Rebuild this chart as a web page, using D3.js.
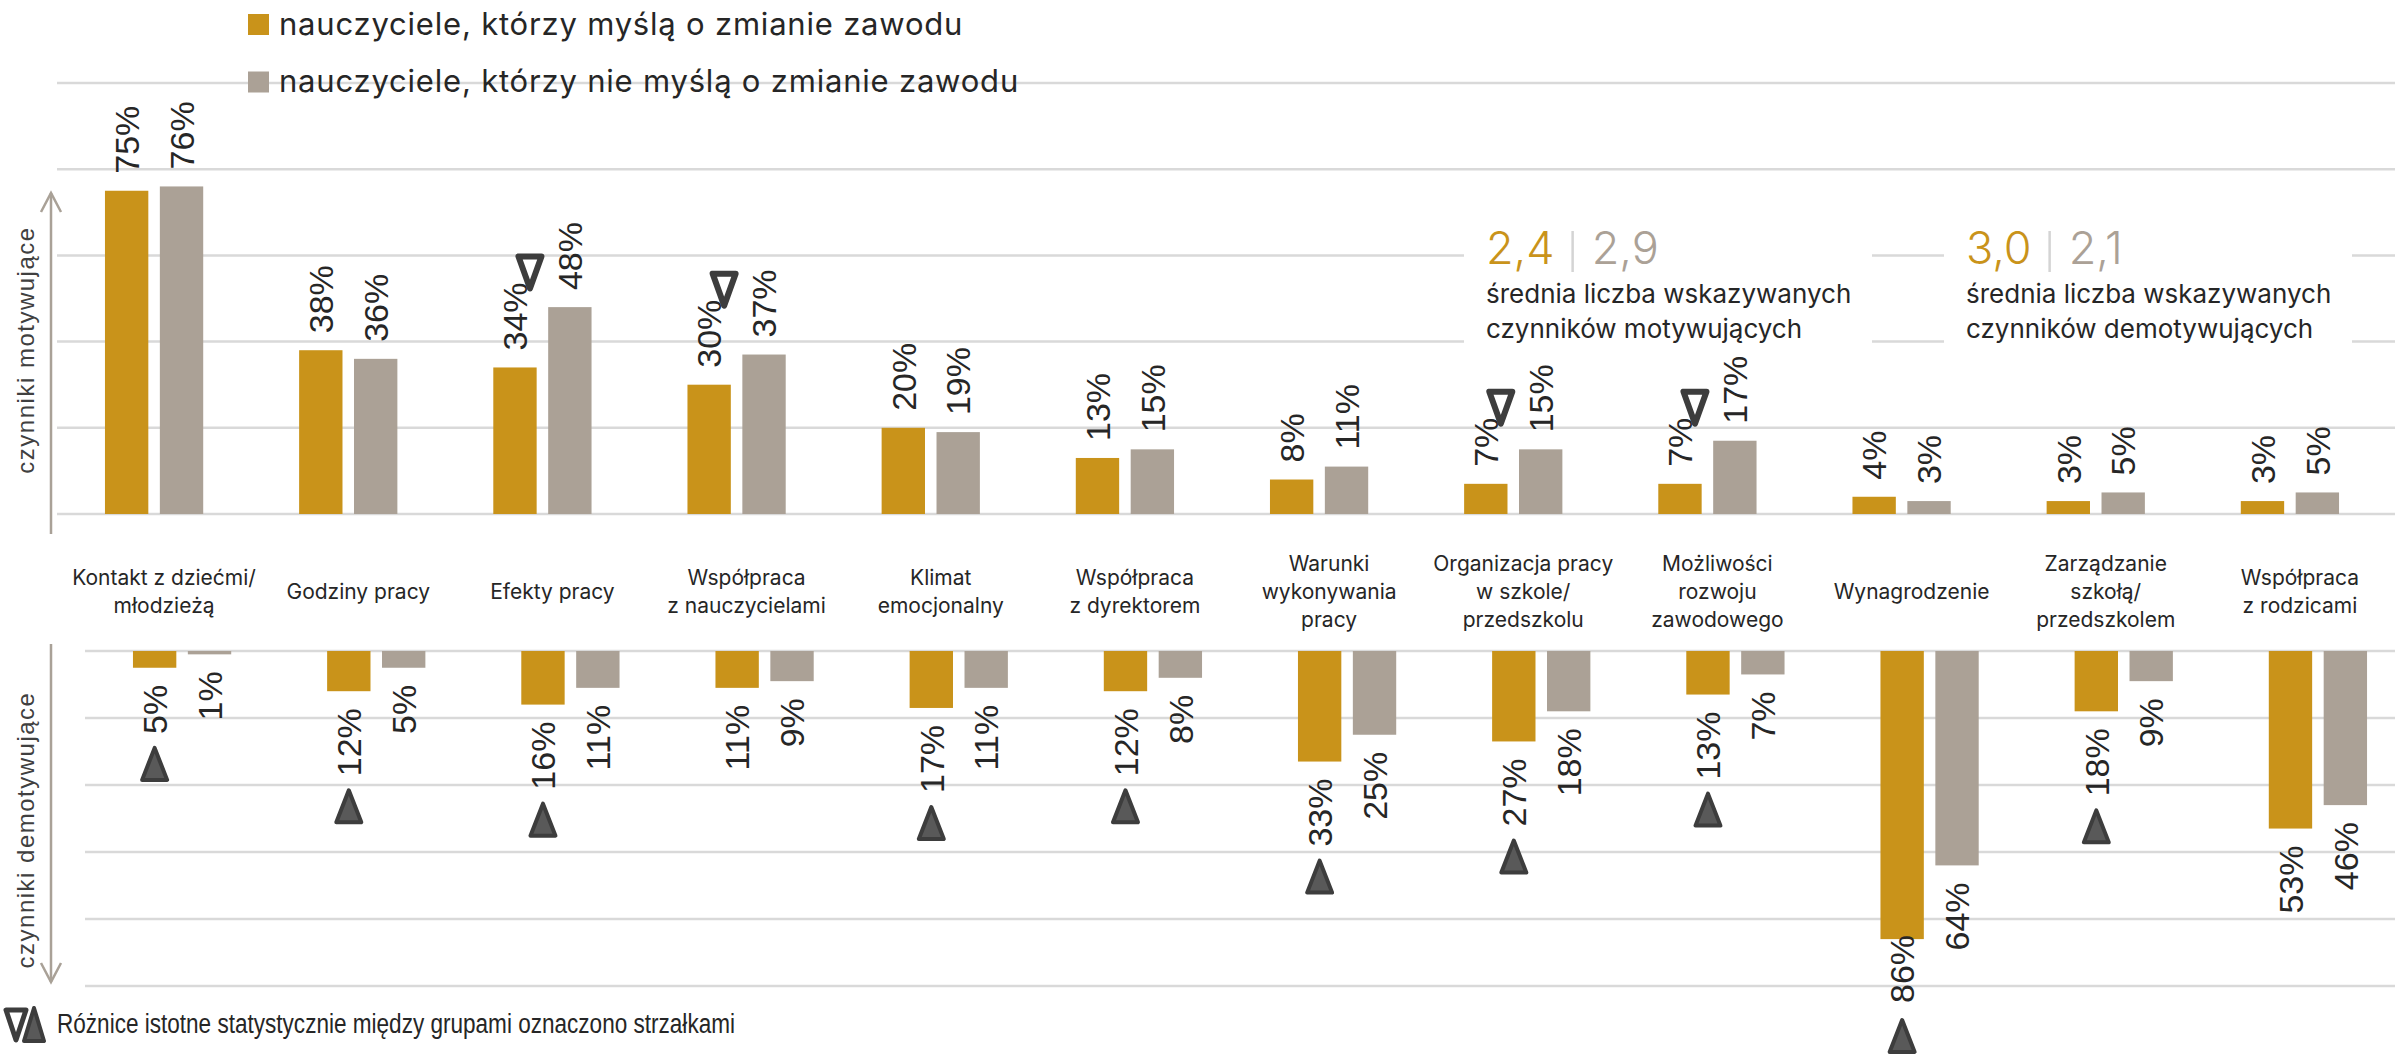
<!DOCTYPE html>
<html>
<head>
<meta charset="utf-8">
<script src="https://cdn.jsdelivr.net/npm/d3@7"></script>
<style>
  body { margin: 0; background: #fff; }
  svg { display: block; }
</style>
</head>
<body>
<svg id="chart"></svg>
<script>
// data
const categories = [
  ["Kontakt z dziećmi/", "młodzieżą"],
  ["Godziny pracy"],
  ["Efekty pracy"],
  ["Współpraca", "z nauczycielami"],
  ["Klimat", "emocjonalny"],
  ["Współpraca", "z dyrektorem"],
  ["Warunki", "wykonywania", "pracy"],
  ["Organizacja pracy", "w szkole/", "przedszkolu"],
  ["Możliwości", "rozwoju", "zawodowego"],
  ["Wynagrodzenie"],
  ["Zarządzanie", "szkołą/", "przedszkolem"],
  ["Współpraca", "z rodzicami"]
];
const seriesNames = [
  "nauczyciele, którzy myślą o zmianie zawodu",
  "nauczyciele, którzy nie myślą o zmianie zawodu"
];
const motivYes = [75, 38, 34, 30, 20, 13, 8, 7, 7, 4, 3, 3];
const motivNo = [76, 36, 48, 37, 19, 15, 11, 15, 17, 3, 5, 5];
const demotYes = [5, 12, 16, 11, 17, 12, 33, 27, 13, 86, 18, 53];
const demotNo = [1, 5, 11, 9, 11, 8, 25, 18, 7, 64, 9, 46];
const motivArrows = [false, false, true, true, false, false, false, true, true, false, false, false];
const demotArrows = [true, true, true, false, true, true, true, true, true, true, true, false];
const avgYes = ["2,4", "3,0"];
const avgNo = ["2,9", "2,1"];
const avgLabels = [
  ["średnia liczba wskazywanych", "czynników motywujących"],
  ["średnia liczba wskazywanych", "czynników demotywujących"]
];
const axisTitles = ["czynniki motywujące", "czynniki demotywujące"];
const noteText = "Różnice istotne statystycznie między grupami oznaczono strzałkami";

const W = 2395, H = 1054;
const colors = ["#c9931a", "#aba196"];
const textColor = "#262626";
const darkArrow = "#3d3d3d";

const idx = d3.range(categories.length);
const xTop = d3.scaleBand().domain(idx).range([57, 2387]).paddingInner(0.494).paddingOuter(0.247);
const xBot = xTop.copy().range([85, 2415]);
const xSeries = d3.scaleBand().domain([0, 1]).range([0, xTop.bandwidth()]).paddingInner(0.21);
const yTop = d3.scaleLinear().domain([0, 100]).range([514, 83]);
const yBot = d3.scaleLinear().domain([0, 100]).range([651, 986]);

function downTri(cx, bottom) {
  const w = 23, h = 32;
  return `M${cx - w / 2},${bottom - h}L${cx + w / 2},${bottom - h}L${cx},${bottom}Z`;
}
function upTri(cx, top) {
  const w = 25, h = 32;
  return `M${cx},${top}L${cx + w / 2},${top + h}L${cx - w / 2},${top + h}Z`;
}

function drawChart() {
  const svg = d3.select("#chart").attr("width", W).attr("height", H);

  // gridlines
  svg.append("g").selectAll("line")
    .data(yTop.ticks(5))
    .enter().append("line")
    .attr("x1", 57).attr("x2", W)
    .attr("y1", d => yTop(d)).attr("y2", d => yTop(d))
    .attr("stroke", "#d9d9d9").attr("stroke-width", 2.5);

  svg.append("g").selectAll("line")
    .data(yBot.ticks(5))
    .enter().append("line")
    .attr("x1", 85).attr("x2", W)
    .attr("y1", d => yBot(d)).attr("y2", d => yBot(d))
    .attr("stroke", "#d9d9d9").attr("stroke-width", 2.5);

  // average boxes (white background hides the gridlines)
  const avgX = [1486, 1966];
  avgX.forEach((x, k) => {
    const g = svg.append("g");
    g.append("rect").attr("x", x - 22).attr("y", 215).attr("width", 408).attr("height", 135).attr("fill", "#fff");
    const t = g.append("text").attr("x", x).attr("y", 264)
      .attr("font-family", "Inter, sans-serif").attr("font-weight", 300).attr("font-size", 45);
    t.append("tspan").attr("fill", colors[0]).text(avgYes[k]);
    const w = t.node().getComputedTextLength();
    g.append("line").attr("x1", x + w + 18).attr("x2", x + w + 18).attr("y1", 231).attr("y2", 272)
      .attr("stroke", "#d4d4d4").attr("stroke-width", 2.5);
    g.append("text").attr("x", x + w + 37).attr("y", 264)
      .attr("font-family", "Inter, sans-serif").attr("font-weight", 300).attr("font-size", 45)
      .attr("fill", colors[1]).text(avgNo[k]);
    g.append("text").attr("font-family", "Inter, sans-serif").attr("font-size", 26).attr("fill", textColor)
      .selectAll("tspan").data(avgLabels[k]).enter().append("tspan")
      .attr("x", x).attr("y", (d, j) => 303 + j * 35).text(d => d);
  });

  // axis arrows
  const arrow = svg.append("g").attr("stroke", "#a9a197").attr("stroke-width", 2.5).attr("fill", "none");
  arrow.append("line").attr("x1", 51).attr("x2", 51).attr("y1", 193).attr("y2", 534);
  arrow.append("path").attr("d", "M41,212L51,193L61,212");
  arrow.append("line").attr("x1", 51).attr("x2", 51).attr("y1", 644).attr("y2", 982);
  arrow.append("path").attr("d", "M41,963L51,982L61,963");

  svg.selectAll(".axis-title")
    .data(axisTitles)
    .enter().append("text")
    .attr("class", "axis-title")
    .attr("transform", (d, i) => `translate(26,${i === 0 ? 350 : 830}) rotate(-90)`)
    .attr("dy", "0.35em")
    .attr("text-anchor", "middle")
    .attr("font-family", "Liberation Sans, Arial, sans-serif")
    .attr("font-size", 24)
    .attr("letter-spacing", 1.5)
    .attr("fill", "#404040")
    .text(d => d);

  const bw = xSeries.bandwidth();
  const labelFont = { family: "Liberation Sans, Arial, sans-serif", size: 34 };

  // motivating (top)
  const top = svg.selectAll(".top")
    .data(idx)
    .enter().append("g")
    .attr("class", "top")
    .attr("transform", i => `translate(${xTop(i)},0)`);

  top.selectAll("rect")
    .data(i => [motivYes[i], motivNo[i]])
    .enter().append("rect")
    .attr("x", (d, s) => xSeries(s))
    .attr("y", d => yTop(d))
    .attr("width", bw)
    .attr("height", d => yTop(0) - yTop(d))
    .attr("fill", (d, s) => colors[s]);

  top.selectAll("text")
    .data(i => [motivYes[i], motivNo[i]])
    .enter().append("text")
    .attr("transform", (d, s) => `translate(${xSeries(s) + bw / 2},${yTop(d) - 17}) rotate(-90)`)
    .attr("dy", "0.36em")
    .attr("font-family", labelFont.family)
    .attr("font-size", labelFont.size)
    .attr("fill", textColor)
    .text(d => d + "%");

  top.filter(i => motivArrows[i]).each(function(i) {
    const g = d3.select(this);
    const len = g.select("text").node().getComputedTextLength();
    const labelTop = yTop(motivYes[i]) - 17 - len;
    g.append("path")
      .attr("d", downTri(xSeries(0) + bw / 2 + 15, labelTop + 6))
      .attr("fill", "none")
      .attr("stroke", darkArrow)
      .attr("stroke-width", 6)
      .attr("stroke-linejoin", "round");
  });

  // demotivating (bottom)
  const bot = svg.selectAll(".bot")
    .data(idx)
    .enter().append("g")
    .attr("class", "bot")
    .attr("transform", i => `translate(${xBot(i)},0)`);

  bot.selectAll("rect")
    .data(i => [demotYes[i], demotNo[i]])
    .enter().append("rect")
    .attr("x", (d, s) => xSeries(s))
    .attr("y", yBot(0))
    .attr("width", bw)
    .attr("height", d => yBot(d) - yBot(0))
    .attr("fill", (d, s) => colors[s]);

  bot.selectAll("text")
    .data(i => [demotYes[i], demotNo[i]])
    .enter().append("text")
    .attr("transform", (d, s) => `translate(${xSeries(s) + bw / 2},${yBot(d) + 17}) rotate(-90)`)
    .attr("dy", "0.36em")
    .attr("text-anchor", "end")
    .attr("font-family", labelFont.family)
    .attr("font-size", labelFont.size)
    .attr("fill", textColor)
    .text(d => d + "%");

  bot.filter(i => demotArrows[i]).each(function(i) {
    const g = d3.select(this);
    const label = g.select("text");
    const len = label.node().getComputedTextLength();
    const cx = xSeries(0) + bw / 2;
    let labelStart = yBot(demotYes[i]) + 17;
    let triTop = labelStart + len + 12;
    if (triTop + 34 > H - 2) {
      // no room below: push the arrow up to the edge and the label with it
      triTop = H - 2 - 34;
      labelStart = triTop - 15 - len;
      label.attr("transform", `translate(${cx},${labelStart}) rotate(-90)`);
    }
    g.append("path")
      .attr("d", upTri(cx, triTop + 2))
      .attr("fill", "#595959")
      .attr("stroke", darkArrow)
      .attr("stroke-width", 4)
      .attr("stroke-linejoin", "round");
  });

  // category labels between the two panels
  svg.selectAll(".cat")
    .data(idx)
    .enter().append("text")
    .attr("class", "cat")
    .attr("text-anchor", "middle")
    .attr("font-family", "Inter, sans-serif")
    .attr("font-size", 21)
    .attr("fill", textColor)
    .each(function(i) {
      const lines = categories[i];
      d3.select(this).selectAll("tspan")
        .data(lines)
        .enter().append("tspan")
        .attr("x", xTop(i) + xTop.bandwidth() / 2 + 10)
        .attr("y", (d, j) => 599 + (j - (lines.length - 1) / 2) * 28.3)
        .text(d => d);
    });

  // legend
  const leg = svg.selectAll(".leg")
    .data(seriesNames)
    .enter().append("g")
    .attr("class", "leg")
    .attr("transform", (d, s) => `translate(248,${14 + s * 57.5})`);
  leg.append("rect").attr("width", 21).attr("height", 21).attr("fill", (d, s) => colors[s]);
  leg.append("text")
    .attr("x", 31).attr("y", 20.5)
    .attr("font-family", "Inter, sans-serif")
    .attr("font-size", 31)
    .attr("letter-spacing", 0.8)
    .attr("fill", textColor)
    .text(d => d);

  // note at the bottom
  const note = svg.append("g");
  note.append("path")
    .attr("d", "M6,1010L26,1010L16,1040Z")
    .attr("fill", "#fff").attr("stroke", darkArrow).attr("stroke-width", 5).attr("stroke-linejoin", "round");
  note.append("path")
    .attr("d", "M34,1008L44,1041L24,1041Z")
    .attr("fill", "#595959").attr("stroke", darkArrow).attr("stroke-width", 4).attr("stroke-linejoin", "round");
  note.append("text")
    .attr("x", 57).attr("y", 1033)
    .attr("font-family", "Liberation Sans Narrow, Arial Narrow, sans-serif")
    .attr("font-size", 27)
    .attr("textLength", 678)
    .attr("lengthAdjust", "spacingAndGlyphs")
    .attr("fill", textColor)
    .text(noteText);
}

document.fonts.ready.then(drawChart);
</script>
</body>
</html>
